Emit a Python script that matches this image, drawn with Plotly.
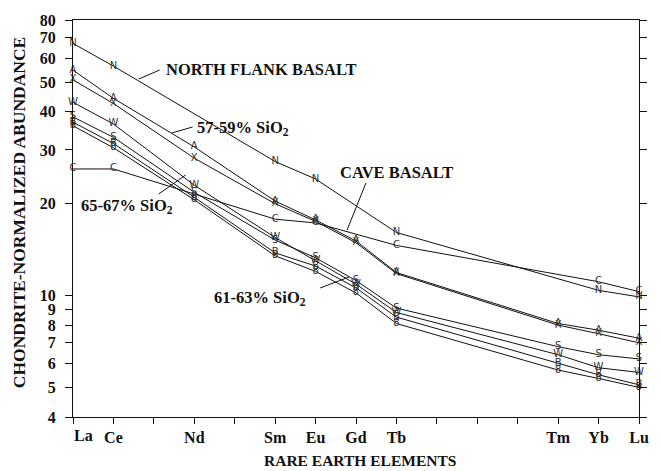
import math
import plotly.graph_objects as go

# Element positions (atomic number - 57)
elements = ["La", "Ce", "Pr", "Nd", "Pm", "Sm", "Eu", "Gd", "Tb", "Dy", "Ho", "Er", "Tm", "Yb", "Lu"]
plotted = ["La", "Ce", "Nd", "Sm", "Eu", "Gd", "Tb", "Tm", "Yb", "Lu"]
x_pos = [elements.index(e) for e in plotted]
tick_text = ["", "Ce", "", "Nd", "", "Sm", "Eu", "Gd", "Tb", "", "", "", "Tm", "Yb", "Lu"]

#            La    Ce    Nd    Sm    Eu    Gd    Tb    Tm    Yb    Lu
north_flank = [67.0, 56.5, None, 27.5, 24.1, None, 16.1, None, 10.4, 9.9]
cave_basalt = [26.0, 26.0, None, 17.8, 17.3, None, 14.6, None, 11.1, 10.3]
sio2_57_a   = [54.8, 44.3, 30.7, 20.4, 17.7, 15.1, 11.9, 8.1, 7.7, 7.25]
sio2_57_x   = [50.9, 42.6, 28.2, 20.0, 17.5, 14.9, 11.8, 8.0, 7.5, 7.0]
low_w       = [43.0, 36.5, 23.0, 15.5, 13.0, 10.9, 8.8, 6.4, 5.8, 5.6]
low_s       = [38.5, 33.0, 21.8, 15.2, 13.3, 11.2, 9.1, 6.8, 6.4, 6.2]
low_b       = [37.0, 31.5, 21.0, 13.8, 12.5, 10.6, 8.5, 6.0, 5.5, 5.1]
low_8       = [36.0, 30.5, 20.6, 13.5, 12.0, 10.2, 8.1, 5.7, 5.35, 5.0]

series = [
    (north_flank, "N"), (cave_basalt, "C"), (sio2_57_a, "A"), (sio2_57_x, "X"),
    (low_w, "W"), (low_s, "S"), (low_b, "B"), (low_8, "8"),
]

y_ticks = [4, 5, 6, 7, 8, 9, 10, 20, 30, 40, 50, 60, 70, 80]

SERIF = "Liberation Serif"
INK = "#111"
fig = go.Figure()
for vals, letter in series:
    xs = [x for x, v in zip(x_pos, vals) if v is not None]
    ys = [v for v in vals if v is not None]
    fig.add_trace(go.Scatter(
        x=xs, y=ys, mode="lines+text", text=[letter] * len(xs),
        textposition="middle center",
        textfont=dict(family="DejaVu Sans", size=10, color="#333"),
        line=dict(color=INK, width=1), showlegend=False, cliponaxis=False,
    ))

# plot-area pixel geometry (for label placement in paper coords)
L, R, T, B = 73, 641, 20, 417
def px(xp):
    return (xp - L) / (R - L)
def py(yp):
    return (B - yp) / (B - T)

labels = [
    ("<b>NORTH FLANK BASALT</b>", 164, 69, (160, 70), (139, 79)),
    ("<b>57-59% SiO<sub>2</sub></b>", 195, 128, (193, 127), (172, 133)),
    ("<b>CAVE BASALT</b>", 339, 172, (367, 183), (348, 230)),
    ("<b>65-67% SiO<sub>2</sub></b>", 79, 206, (159, 194), (186, 175)),
    ("<b>61-63% SiO<sub>2</sub></b>", 212, 298, (321, 288), (350, 277)),
]
for txt, tx, ty, p0, p1 in labels:
    fig.add_annotation(x=px(tx), y=py(ty), xref="paper", yref="paper", text=txt,
                       showarrow=False, xanchor="left", yanchor="middle",
                       font=dict(family=SERIF, size=16.5, color=INK))
    fig.add_shape(type="line", xref="paper", yref="paper",
                  x0=px(p0[0]), y0=py(p0[1]), x1=px(p1[0]), y1=py(p1[1]),
                  line=dict(color=INK, width=1))

# "La" label sits just right of its tick, as in the original
fig.add_annotation(x=0, y=py(435), xref="x", yref="paper", text="La", showarrow=False,
                   xanchor="left", yanchor="middle", xshift=-1,
                   font=dict(family=SERIF, size=16, color=INK, weight="bold"))
# axis titles
fig.add_annotation(x=px(19), y=py(212), xref="paper", yref="paper",
                   text="<b>CHONDRITE-NORMALIZED ABUNDANCE</b>", textangle=-90, showarrow=False,
                   xanchor="center", yanchor="middle",
                   font=dict(family=SERIF, size=17.5, color=INK))
fig.add_annotation(x=px(361), y=py(460), xref="paper", yref="paper",
                   text="<b>RARE EARTH ELEMENTS</b>", showarrow=False,
                   xanchor="center", yanchor="middle",
                   font=dict(family=SERIF, size=15.5, color=INK))

fig.update_xaxes(
    range=[0, 14], tickvals=list(range(15)), ticktext=tick_text,
    ticks="outside", ticklen=6, tickcolor=INK, showline=True, linecolor=INK,
    linewidth=1, mirror=True, showgrid=False, zeroline=False,
    tickfont=dict(family=SERIF, size=16, color=INK, weight="bold"),
)
fig.update_yaxes(
    type="log", range=[math.log10(4), math.log10(80)], tickvals=y_ticks,
    ticktext=[str(v) for v in y_ticks],
    ticks="outside", ticklen=7, tickcolor=INK, showline=True, linecolor=INK,
    linewidth=1, mirror="ticks", showgrid=False, zeroline=False, ticklabelstandoff=6,
    tickfont=dict(family=SERIF, size=16, color=INK, weight="bold"),
)
fig.update_layout(
    width=661, height=471, margin=dict(l=L, r=661 - R, t=T, b=471 - B),
    paper_bgcolor="white", plot_bgcolor="white",
)
fig.write_html("out.html")
